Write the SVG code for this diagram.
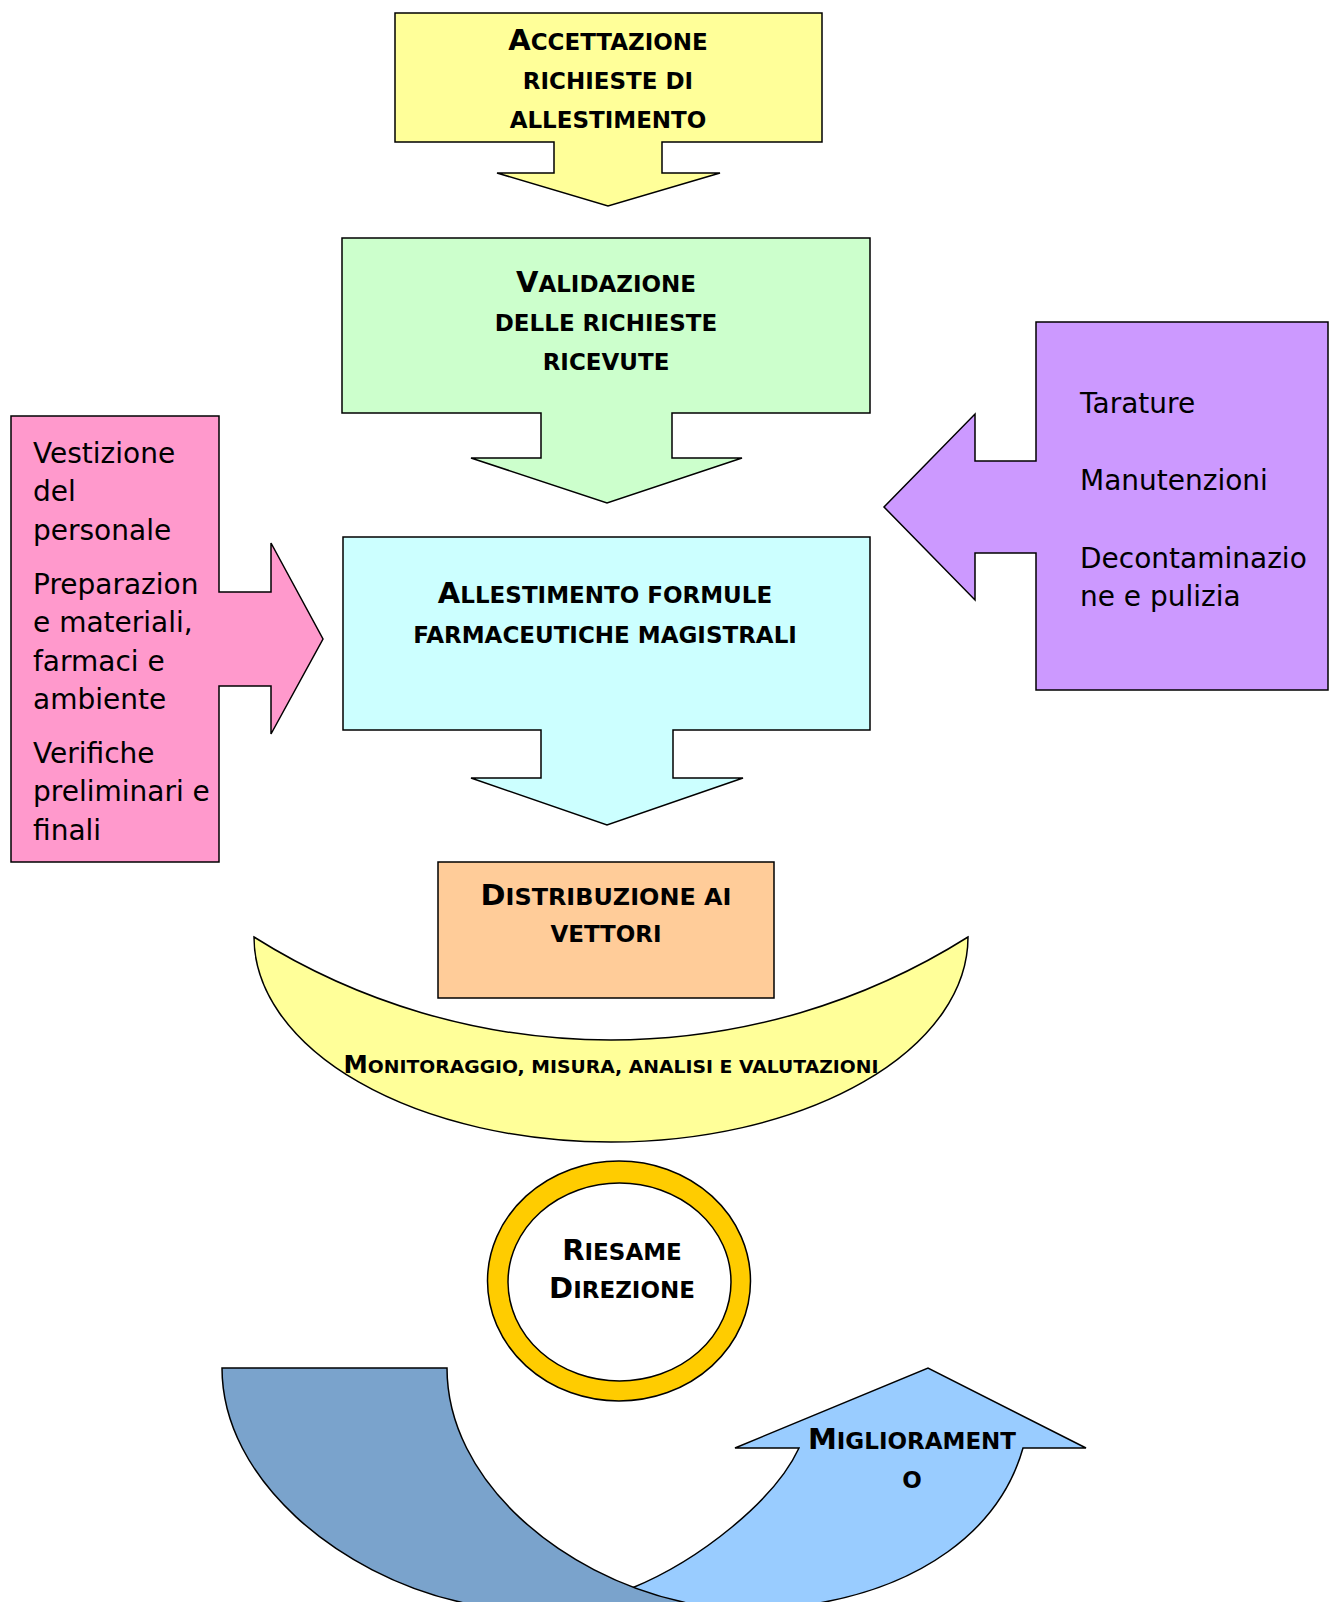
<svg xmlns="http://www.w3.org/2000/svg" width="1329" height="1602" viewBox="0 0 1329 1602">
  <style>
    .shape { stroke: #000; stroke-width: 1.5; stroke-linejoin: miter; }
    .b { font-family: "DejaVu Sans", "Liberation Sans", sans-serif; font-weight: bold; font-size: 23px; text-anchor: middle; fill: #000; }
    .cap { font-size: 29px; }
    .bs { font-family: "DejaVu Sans", "Liberation Sans", sans-serif; font-weight: bold; font-size: 18.5px; text-anchor: middle; fill: #000; }
    .bs .cap { font-size: 24px; }
    .r { font-family: "DejaVu Sans", "Liberation Sans", sans-serif; font-size: 28px; fill: #000; }
  </style>
  <rect width="1329" height="1602" fill="#fff"/>

  <!-- Acceptance of requests: down block arrow -->
  <g id="accettazione">
    <path class="shape" fill="#FFFF99" d="M395,13 L822,13 L822,142 L662,142 L662,173 L720,173 L608,206 L497,173 L554,173 L554,142 L395,142 Z"/>
    <text class="b" x="608" y="50"><tspan class="cap">A</tspan>CCETTAZIONE</text>
    <text class="b" x="608" y="89">RICHIESTE DI</text>
    <text class="b" x="608" y="128">ALLESTIMENTO</text>
  </g>

  <!-- Validation: down block arrow -->
  <g id="validazione">
    <path class="shape" fill="#CCFFCC" d="M342,238 L870,238 L870,413 L672,413 L672,458 L742,458 L607,503 L471,458 L541,458 L541,413 L342,413 Z"/>
    <text class="b" x="606" y="292"><tspan class="cap">V</tspan>ALIDAZIONE</text>
    <text class="b" x="606" y="331">DELLE RICHIESTE</text>
    <text class="b" x="606" y="370">RICEVUTE</text>
  </g>

  <!-- Staff / materials: right block arrow -->
  <g id="personale">
    <path class="shape" fill="#FF99CC" d="M11,416 L219,416 L219,592 L271,592 L271,543 L323,639 L271,734 L271,686 L219,686 L219,862 L11,862 Z"/>
    <text class="r" x="33" y="463">Vestizione</text>
    <text class="r" x="33" y="501">del</text>
    <text class="r" x="33" y="540">personale</text>
    <text class="r" x="33" y="594">Preparazion</text>
    <text class="r" x="33" y="632">e materiali,</text>
    <text class="r" x="33" y="671">farmaci e</text>
    <text class="r" x="33" y="709">ambiente</text>
    <text class="r" x="33" y="763">Verifiche</text>
    <text class="r" x="33" y="801">preliminari e</text>
    <text class="r" x="33" y="840">finali</text>
  </g>

  <!-- Equipment care: left block arrow -->
  <g id="tarature">
    <path class="shape" fill="#CC99FF" d="M1036,322 L1328,322 L1328,690 L1036,690 L1036,553 L975,553 L975,600 L884,507 L975,414 L975,461 L1036,461 Z"/>
    <text class="r" x="1080" y="413">Tarature</text>
    <text class="r" x="1080" y="490">Manutenzioni</text>
    <text class="r" x="1080" y="568">Decontaminazio</text>
    <text class="r" x="1080" y="606">ne e pulizia</text>
  </g>

  <!-- Compounding: down block arrow -->
  <g id="allestimento">
    <path class="shape" fill="#CCFFFF" d="M343,537 L870,537 L870,730 L673,730 L673,778 L743,778 L607,825 L471,778 L541,778 L541,730 L343,730 Z"/>
    <text class="b" x="605" y="603"><tspan class="cap">A</tspan>LLESTIMENTO FORMULE</text>
    <text class="b" x="605" y="643">FARMACEUTICHE MAGISTRALI</text>
  </g>

  <!-- Distribution -->
  <g id="distribuzione">
    <rect class="shape" fill="#FFCC99" x="438" y="862" width="336" height="136"/>
    <text class="b" x="606" y="905" textLength="251" lengthAdjust="spacingAndGlyphs"><tspan class="cap">D</tspan>ISTRIBUZIONE AI</text>
    <text class="b" x="606" y="942">VETTORI</text>
  </g>

  <!-- Monitoring crescent -->
  <g id="monitoraggio">
    <path class="shape" fill="#FFFF99" d="M254,937 A357,205 0 0 0 968,937 A670,670 0 0 1 254,937 Z"/>
    <text class="bs" x="611" y="1073" textLength="535" lengthAdjust="spacingAndGlyphs"><tspan class="cap">M</tspan>ONITORAGGIO, MISURA, ANALISI E VALUTAZIONI</text>
  </g>

  <!-- Management review ring -->
  <g id="riesame">
    <ellipse class="shape" fill="#FFCC00" cx="619" cy="1281" rx="131.5" ry="120"/>
    <ellipse class="shape" fill="#FFFFFF" cx="619.5" cy="1282" rx="111.5" ry="99"/>
    <text class="b" x="622" y="1260"><tspan class="cap">R</tspan>IESAME</text>
    <text class="b" x="622" y="1298"><tspan class="cap">D</tspan>IREZIONE</text>
  </g>

  <!-- Improvement: curved up arrow (front face, then shaded back) -->
  <g id="miglioramento">
    <path class="shape" fill="#99CCFF" d="M632,1588 C700,1560 775,1500 799,1448 L735,1448 L928,1368 L1086,1448 L1023,1448 C1000,1530 920,1590 800,1606 L780,1625 L600,1625 Z"/>
    <path class="shape" fill="#7AA3CC" d="M222,1368 L447,1368 C447,1480 560,1575 683,1602 L740,1618 L520,1618 L460,1602 C340,1575 222,1480 222,1368 Z"/>
    <text class="b" x="912" y="1449"><tspan class="cap">M</tspan>IGLIORAMENT</text>
    <text class="b" x="912" y="1488">O</text>
  </g>
</svg>
